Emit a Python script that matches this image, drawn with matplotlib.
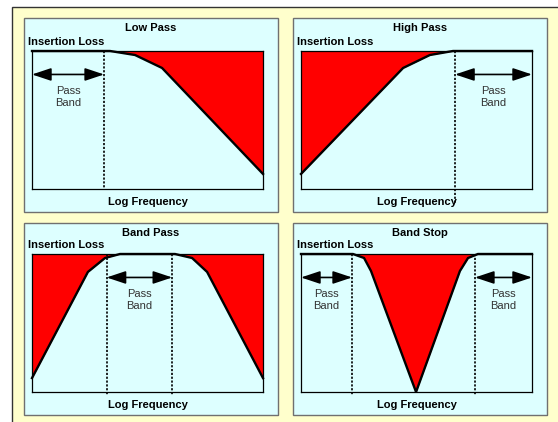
import matplotlib.pyplot as plt
from matplotlib.patches import Rectangle

W, H = 558, 422

titles = ['Low Pass', 'High Pass', 'Band Pass', 'Band Stop']

# curves: x = log frequency (0..1), y = insertion loss (0 top .. 1 bottom)
low_x = [0.0, 0.338, 0.446, 0.563, 1.0]
low_y = [0.0, 0.0, 0.029, 0.123, 0.891]
high_x = [0.0, 0.442, 0.558, 0.658, 1.0]
high_y = [0.891, 0.123, 0.029, 0.0, 0.0]
bpass_x = [0.0, 0.242, 0.316, 0.381, 0.619, 0.693, 0.758, 1.0]
bpass_y = [0.899, 0.130, 0.029, 0.0, 0.0, 0.029, 0.130, 0.899]
bstop_x = [0.0, 0.225, 0.273, 0.303, 0.498, 0.688, 0.723, 0.766, 1.0]
bstop_y = [0.0, 0.0, 0.029, 0.123, 1.0, 0.123, 0.029, 0.0, 0.0]

# cutoff markers (dashed) and pass band ranges
low_cut = [0.312]
high_cut = [0.667]
bpass_cut = [0.323, 0.607]
bstop_cut = [0.221, 0.753]
low_bands = [(0.0, 0.312)]
high_bands = [(0.667, 1.0)]
bpass_bands = [(0.323, 0.607)]
bstop_bands = [(0.0, 0.221), (0.753, 1.0)]

curves_x = [low_x, high_x, bpass_x, bstop_x]
curves_y = [low_y, high_y, bpass_y, bstop_y]
cuts = [low_cut, high_cut, bpass_cut, bstop_cut]
bands = [low_bands, high_bands, bpass_bands, bstop_bands]
cut_ext = [0.0, 0.10, 0.025, 0.025]

# panel boxes in pixels (x0, y0, x1, y1)
panels = [(24, 18, 278, 212), (293, 18, 547, 212),
          (24, 223, 278, 415), (293, 223, 547, 415)]
inner = [(32, 51, 263, 189), (301, 51, 532, 189),
         (32, 254, 263, 392), (301, 254, 532, 392)]

CYAN = '#DDFFFF'
YELLOW = '#FFFFCC'
FONT = 'Liberation Sans'


def fx(px):
    return px / W


def fy(py):
    return 1 - py / H


fig = plt.figure(figsize=(W / 100, H / 100), dpi=100)
fig.patch.set_facecolor('white')

# outer yellow frame
fig.patches.append(Rectangle((fx(12), fy(430)), fx(560), fy(7) - fy(430),
                             transform=fig.transFigure, facecolor=YELLOW,
                             edgecolor='#333333', lw=1.0, zorder=-3))

for i in range(4):
    x0, y0, x1, y1 = panels[i]
    # shadow + panel
    fig.patches.append(Rectangle((fx(x0 + 1), fy(y1 + 1)), fx(x1 - x0), fy(y0) - fy(y1),
                                 transform=fig.transFigure, facecolor='#444444',
                                 edgecolor='none', zorder=-2))
    fig.patches.append(Rectangle((fx(x0), fy(y1)), fx(x1 - x0), fy(y0) - fy(y1),
                                 transform=fig.transFigure, facecolor=CYAN,
                                 edgecolor='#707070', lw=1.0, zorder=-1))

    ix0, iy0, ix1, iy1 = inner[i]
    ax = fig.add_axes([fx(ix0), fy(iy1), fx(ix1 - ix0), fy(iy0) - fy(iy1)])
    ax.set_zorder(5)
    ax.set_facecolor(CYAN)
    ax.set_xlim(0, 1)
    ax.set_ylim(1, 0)
    ax.set_xticks([])
    ax.set_yticks([])
    for s in ax.spines.values():
        s.set_color('black')
        s.set_linewidth(0.9)

    xs, ys = curves_x[i], curves_y[i]
    ax.fill_between(xs, 0, ys, color='#FF0000', lw=0)
    ax.plot(xs, ys, color='black', lw=1.7, solid_joinstyle='miter', clip_on=False, zorder=3)

    for c in cuts[i]:
        ax.plot([c, c], [0, 1 + cut_ext[i]], color='black', lw=1.2,
                linestyle=(0, (1.3, 1.0)), clip_on=False, zorder=3)

    for a, b in bands[i]:
        ax.annotate('', xy=(a, 0.17), xytext=(b, 0.17),
                    arrowprops=dict(arrowstyle='<|-|>,head_length=0.9,head_width=0.3',
                                    color='black', lw=1.2,
                                    mutation_scale=13, shrinkA=0, shrinkB=0))
        ax.text((a + b) / 2, 0.335, 'Pass\nBand', ha='center', va='center',
                fontsize=8, color='#333333', linespacing=1.25, family=FONT)

    fig.text(fx((x0 + x1) / 2), fy(y0 + 10), titles[i], ha='center', va='center',
             fontsize=8, fontweight='bold', family=FONT, zorder=6)
    fig.text(fx(ix0 - 4), fy(iy0 - 9), 'Insertion Loss', ha='left', va='center',
             fontsize=8, fontweight='bold', family=FONT, zorder=6)
    fig.text(fx((ix0 + ix1) / 2), fy(iy1 + 13), 'Log Frequency', ha='center', va='center',
             fontsize=8, fontweight='bold', family=FONT, zorder=6)

fig.savefig('out.png', dpi=100)
